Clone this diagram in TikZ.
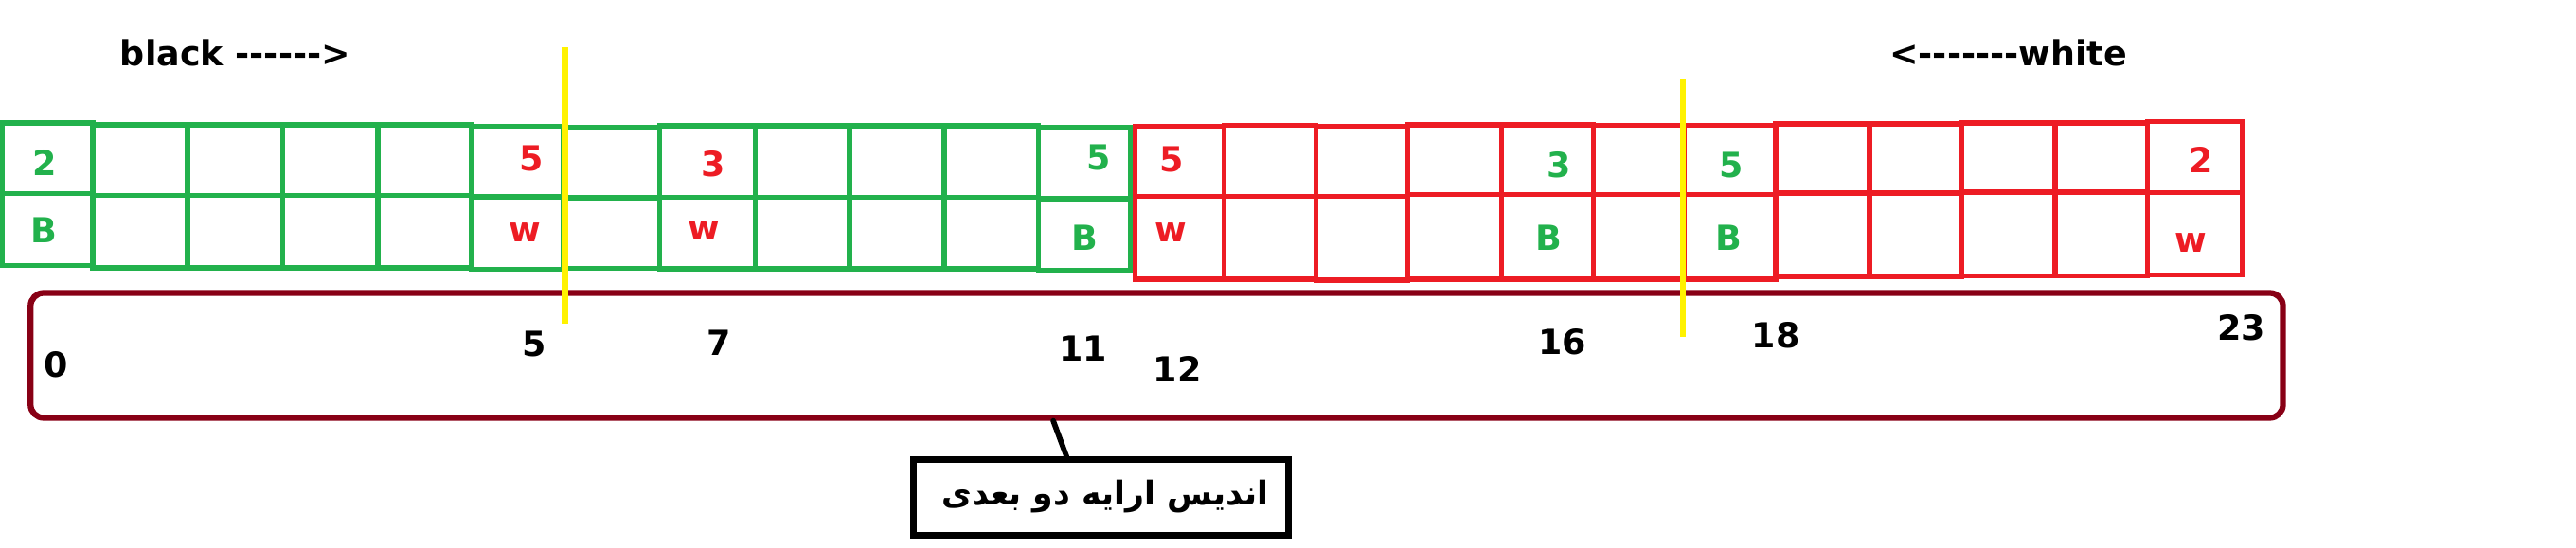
\documentclass[tikz,border=0pt]{standalone}
\usepackage{fontspec}
\setmainfont{DejaVu Sans}
\newfontfamily\arabicfont[Script=Arabic]{DejaVu Sans}
\TeXXeTstate=1
\definecolor{pgreen}{HTML}{22B14C}
\definecolor{pred}{HTML}{ED1C24}
\definecolor{pmaroon}{HTML}{880015}
\definecolor{pyellow}{HTML}{FFF200}
\newcommand{\hy}{-\kern0pt}
\newcommand{\arrcell}[6]{%
  \draw[cellline,#6] (#1,#3) rectangle (#2,#5);
  \draw[cellline,#6] (#1,#4) -- (#2,#4);}
\tikzset{
  cellline/.style={line width=3.2pt},
  lbl/.style={font=\fontsize{21}{25}\selectfont\bfseries, inner sep=0pt, anchor=base},
  idxbox/.style={draw=pmaroon, line width=3.6pt, rounded corners=8pt, inner sep=0pt},
  capbox/.style={draw=black, line width=4pt, inner sep=0pt},
  marker/.style={draw=pyellow, line width=3.6pt},
}
\begin{document}
\begin{tikzpicture}[x=1pt,y=-1pt]
\useasboundingbox (0,0) rectangle (1568,333.2);
% green cells
\arrcell{1.5}{56.5}{75}{118}{161.7}{pgreen}
\arrcell{56.5}{114}{76}{119}{163}{pgreen}
\arrcell{114}{172}{76}{119}{163}{pgreen}
\arrcell{172}{230}{76}{119}{163}{pgreen}
\arrcell{230}{287}{76}{119}{163}{pgreen}
\arrcell{287}{343}{77}{120}{164}{pgreen}
\arrcell{343}{401.5}{77.5}{120.5}{163.5}{pgreen}
\arrcell{401.5}{459.6}{76.8}{120.3}{163.8}{pgreen}
\arrcell{459.6}{517}{76.8}{120.3}{163.8}{pgreen}
\arrcell{517}{574.6}{76.8}{120.3}{163.8}{pgreen}
\arrcell{574.6}{632}{76.8}{120.3}{163.8}{pgreen}
\arrcell{632}{688}{77.5}{121}{164.5}{pgreen}
% red cells
\arrcell{691}{745}{77}{119.5}{170}{pred}
\arrcell{745}{801}{76.5}{119.5}{170}{pred}
\arrcell{801}{857}{77}{119.5}{170.5}{pred}
\arrcell{857}{914}{76}{118.5}{170}{pred}
\arrcell{914}{970}{76}{118.5}{170}{pred}
\arrcell{970}{1025}{76.5}{118.5}{170}{pred}
\arrcell{1025}{1081}{76.5}{118.5}{170}{pred}
\arrcell{1081}{1138}{75.5}{117.5}{168.5}{pred}
\arrcell{1138}{1194}{75.5}{117.5}{168.5}{pred}
\arrcell{1194}{1251}{75}{117}{168}{pred}
\arrcell{1251}{1307}{75}{117}{168}{pred}
\arrcell{1307}{1364.8}{74}{117.2}{167.5}{pred}
% cell labels
\node[lbl,pgreen] (t0) at (27,107) {2};
\node[lbl,pgreen] (b0) at (27,148) {B};
\node[lbl,pred] (t5) at (323.5,104) {5};
\node[lbl,pred] (b5) at (319.5,147) {w};
\node[lbl,pred] (t7) at (434,107.6) {3};
\node[lbl,pred] (b7) at (428.7,146) {w};
\node[lbl,pgreen] (t11) at (668.7,103.7) {5};
\node[lbl,pgreen] (b11) at (660.3,152.7) {B};
\node[lbl,pred] (t12) at (713,104.7) {5};
\node[lbl,pred] (b12) at (712.8,147) {w};
\node[lbl,pgreen] (t16) at (949,108) {3};
\node[lbl,pgreen] (b16) at (943,152.7) {B};
\node[lbl,pgreen] (t18) at (1053.6,108) {5};
\node[lbl,pgreen] (b18) at (1052.5,152.7) {B};
\node[lbl,pred] (t23) at (1340,105) {2};
\node[lbl,pred] (b23) at (1333.5,153.5) {w};
% headings
\node[lbl,anchor=base west] (black) at (73,40.3) {black \hy\hy\hy\hy\hy\hy>};
\node[lbl,anchor=base west] (white) at (1150,40.3) {<\hy\hy\hy\hy\hy\hy\hy white};
% index box
\node[idxbox, minimum width=1371pt, minimum height=76.1pt] (idx) at (704.1,216.45) {};
\node[lbl] (i0) at (34.2,229.6) {0};
\node[lbl] (i5) at (325.5,217) {5};
\node[lbl] (i7) at (437.7,216.2) {7};
\node[lbl] (i11) at (659.4,220) {11};
\node[lbl] (i12) at (716.7,232.5) {12};
\node[lbl] (i16) at (951,215.7) {16};
\node[lbl] (i18) at (1081,211.8) {18};
\node[lbl] (i23) at (1364.4,207) {23};
% caption
\node[capbox, minimum width=228.5pt, minimum height=46pt] (cap) at (670.2,303) {};
\node[lbl, font=\arabicfont\fontsize{20}{24}\selectfont\bfseries] (captext) at (672.6,307.3) {\beginR اندیس ارایه دو بعدی\endR};
\draw[line width=3.3pt, line cap=round] ([xshift=-63pt]idx.south) -- ([xshift=-21pt]cap.north);
% yellow markers
\coordinate (y1a) at (343.8,29);
\coordinate (y1b) at (343.8,197);
\coordinate (y2a) at (1024.5,48);
\coordinate (y2b) at (1024.5,205);
\draw[marker] (y1a) -- (y1b);
\draw[marker] (y2a) -- (y2b);
\end{tikzpicture}
\end{document}
